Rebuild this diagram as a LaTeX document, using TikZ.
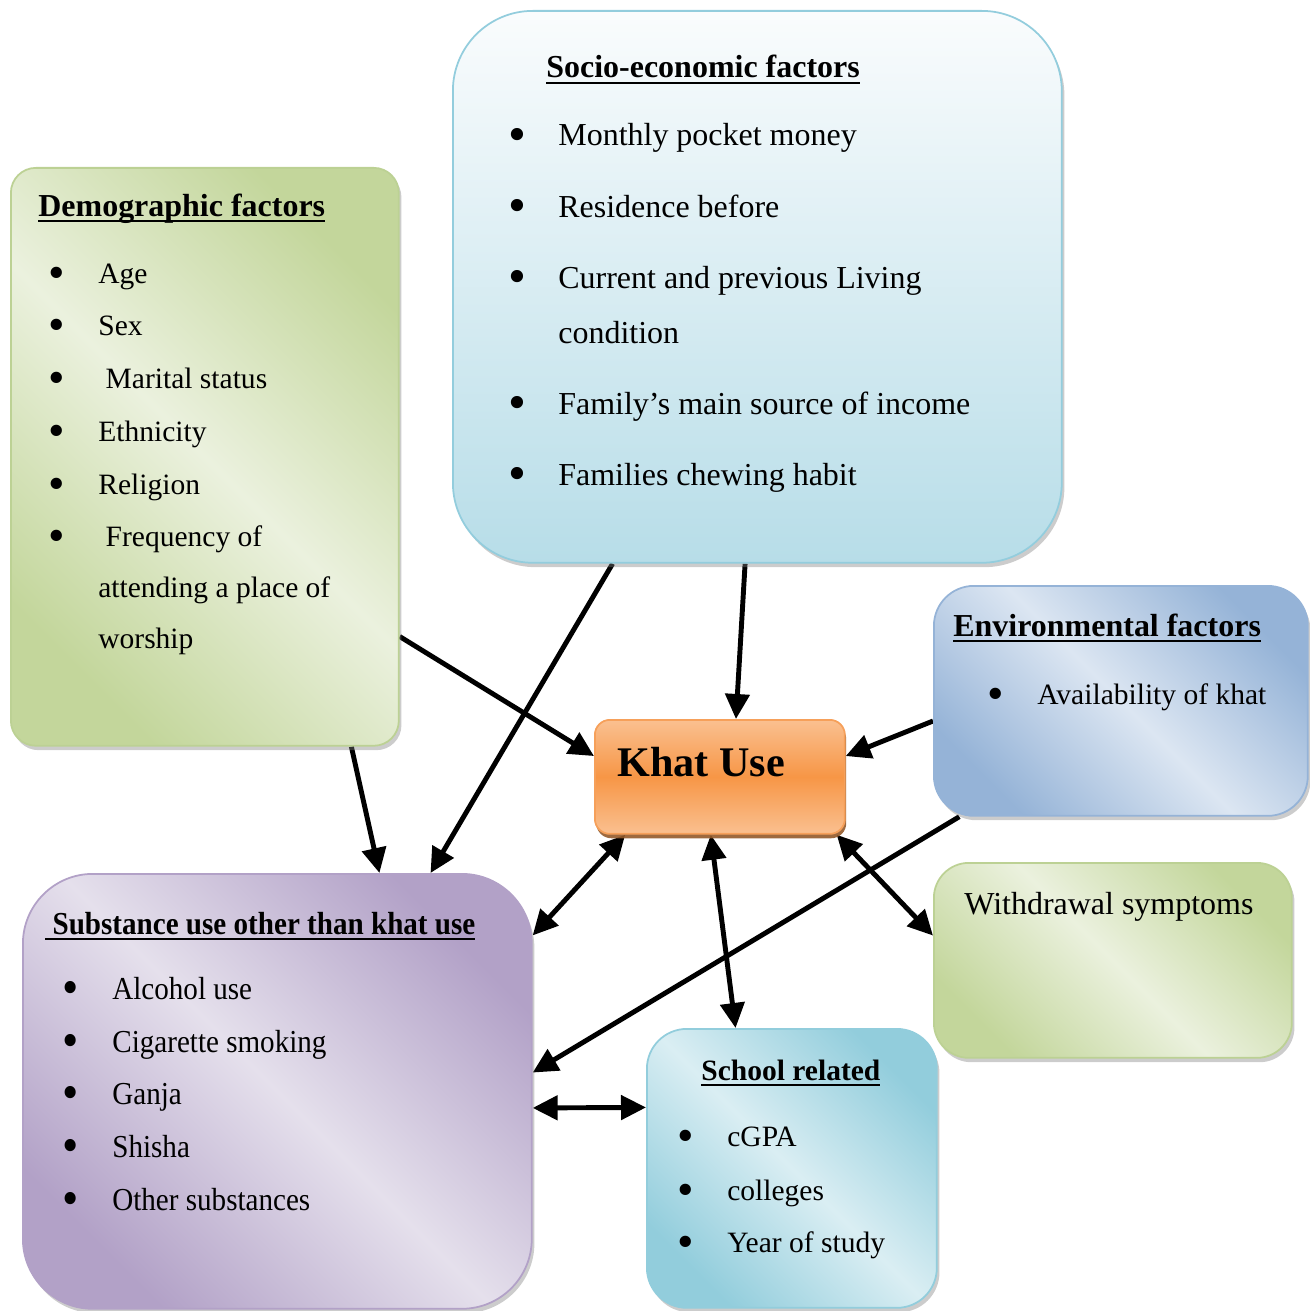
\documentclass[tikz,border=0pt]{standalone}
\usepackage{graphicx}
\usepackage{fontspec}
\setmainfont{Liberation Serif}
\newfontfamily\narrowfont[FakeStretch=0.91]{Liberation Serif}
\usetikzlibrary{arrows.meta,shadows,calc,backgrounds}

\definecolor{grdark}{HTML}{C3D69B}
\definecolor{grlight}{HTML}{EBF1DE}
\definecolor{grline}{HTML}{BCD194}
\definecolor{bltop}{HTML}{FAFCFD}
\definecolor{bldark}{HTML}{B7DDE8}
\definecolor{blline}{HTML}{93CDDD}
\definecolor{ordark}{HTML}{F79646}
\definecolor{orlight}{HTML}{FAC090}
\definecolor{orline}{HTML}{F6A05A}
\definecolor{endark}{HTML}{95B3D7}
\definecolor{enlight}{HTML}{DCE6F2}
\definecolor{pudark}{HTML}{B2A1C7}
\definecolor{pulight}{HTML}{E5E0EC}
\definecolor{scdark}{HTML}{92CDDC}
\definecolor{sclight}{HTML}{DAEEF3}

\newcommand{\bul}{\makebox[0.94cm][l]{\hspace{-1.5pt}\raisebox{-3.4pt}{\scalebox{1.6}{\textbullet}}}}
\newcommand{\uln}[1]{\setbox0\hbox{#1}\rlap{\rule[-3.4pt]{\wd0}{1.1pt}}\box0}

\tikzset{
  box/.style={anchor=north west, draw, line width=1pt},
  shadowed/.style={drop shadow={shadow xshift=1.5pt, shadow yshift=-2.5pt, opacity=0.4}},
  diag/.style 2 args={left color=#1, right color=#1, middle color=#2, shading angle=135},
  txt/.style={anchor=base west, inner sep=0pt},
  small/.style={txt, font=\fontsize{16.8}{20}\selectfont},
  ttl/.style={txt, font=\fontsize{18.2}{22}\selectfont\bfseries},
  conn/.style={line width=2.8pt, -{Triangle[length=0.5cm,width=0.48cm]}},
  both/.style={line width=2.8pt, {Triangle[length=0.5cm,width=0.48cm]}-{Triangle[length=0.5cm,width=0.48cm]}}
}

\begin{document}
\begin{tikzpicture}[x=0.02cm, y=-0.02cm, font=\fontsize{18.2}{22}\selectfont]
\useasboundingbox (0,0) rectangle (1309,1311);

\node[box, shadowed, rounded corners=0.5cm, draw=grline, diag={grdark}{grlight},
  minimum width=7.76cm, minimum height=11.56cm] (demo) at (10,167) {};
\node[box, shadowed, rounded corners=1.6cm, draw=blline, top color=bltop, bottom color=bldark,
  minimum width=12.18cm, minimum height=11.04cm] (socio) at (452,10) {};
\node[box, rounded corners=0.3cm, draw=orline, top color=orlight, bottom color=orlight, middle color=ordark,
  drop shadow={shadow xshift=0.8pt, shadow yshift=-2.5pt, fill=ordark!60!black, opacity=0.9},
  minimum width=5cm, minimum height=2.28cm] (khat) at (594,719) {};
\node[box, shadowed, rounded corners=0.8cm, draw=endark, diag={endark}{enlight},
  minimum width=7.48cm, minimum height=4.6cm] (env) at (933,585) {};
\node[box, shadowed, rounded corners=0.7cm, draw=grline, diag={grdark}{grlight},
  minimum width=7.16cm, minimum height=3.9cm] (wd) at (933,862) {};
\node[box, shadowed, rounded corners=1.4cm, draw=pudark, diag={pudark}{pulight},
  minimum width=10.18cm, minimum height=8.7cm] (subst) at (22,873) {};
\node[box, shadowed, rounded corners=0.8cm, draw=scdark, diag={scdark}{sclight},
  minimum width=5.8cm, minimum height=5.58cm] (school) at (646,1028) {};

\node[ttl] (demot) at (38,216) {\uln{Demographic factors}};
\node[small] (d1) at (51,283) {\bul Age};
\node[small] (d2) at (51,335) {\bul Sex};
\node[small] (d3) at (51,388) {\bul\ Marital status};
\node[small] (d4) at (51,441) {\bul Ethnicity};
\node[small] (d5) at (51,494) {\bul Religion};
\node[small] (d6) at (51,546) {\bul\ Frequency of};
\node[small] (d7) at (98,597) {attending a place of};
\node[small] (d8) at (98,648) {worship};

\node[ttl] (sociot) at (546,78) {\uln{Socio-economic factors}};
\node[txt] (s1) at (511,146) {\bul Monthly pocket money};
\node[txt] (s2) at (511,217) {\bul Residence before};
\node[txt] (s3) at (511,288) {\bul Current and previous Living};
\node[txt] (s4) at (558,343) {condition};
\node[txt] (s5) at (511,414) {\bul Family’s main source of income};
\node[txt] (s6) at (511,485) {\bul Families chewing habit};

\node[txt, font=\fontsize{24}{28}\selectfont\bfseries] (khatt) at (617,776) {Khat Use};

\node[ttl] (envt) at (953,636) {\uln{Environmental factors}};
\node[small] (e1) at (990,704) {\bul Availability of khat};

\node[txt] (wdt) at (964,914) {Withdrawal symptoms};

\node[ttl, font=\fontsize{18.2}{22}\selectfont\narrowfont\bfseries] (substt) at (45,934) {\uln{\ Substance use other than khat use}};
\node[txt, font=\fontsize{18.2}{22}\selectfont\narrowfont] (u1) at (65,999) {\bul Alcohol use};
\node[txt, font=\fontsize{18.2}{22}\selectfont\narrowfont] (u2) at (65,1052) {\bul Cigarette smoking};
\node[txt, font=\fontsize{18.2}{22}\selectfont\narrowfont] (u3) at (65,1104) {\bul Ganja};
\node[txt, font=\fontsize{18.2}{22}\selectfont\narrowfont] (u4) at (65,1157) {\bul Shisha};
\node[txt, font=\fontsize{18.2}{22}\selectfont\narrowfont] (u5) at (65,1210) {\bul Other substances};

\node[ttl, font=\fontsize{16.8}{20}\selectfont\bfseries] (schoolt) at (701,1080) {\uln{School related}};
\node[small] (c1) at (680,1146) {\bul cGPA};
\node[small] (c2) at (680,1200) {\bul colleges};
\node[small] (c3) at (680,1252) {\bul Year of study};

\begin{pgfonlayer}{background}
\draw[conn] ($(demo.north east)!0.81!(demo.south east)$) -- ($(khat.north west)!0.32!(khat.south west)$);
\draw[conn] ($(demo.south west)!0.876!(demo.south east)$) -- ($(subst.north west)!0.70!(subst.north east)$);
\draw[conn] ($(socio.south west)!0.263!(socio.south east)$) -- ($(subst.north west)!0.80!(subst.north east)$);
\draw[conn] ($(socio.south west)!0.48!(socio.south east)$) -- ($(khat.north west)!0.564!(khat.north east)$);
\draw[conn] ($(env.north west)!0.587!(env.south west)$) -- ($(khat.north east)!0.32!(khat.south east)$);
\draw[conn] ($(env.south west)!0.07!(env.south east)$) -- ($(subst.north east)!0.457!(subst.south east)$);
\draw[both] ($(khat.south west)!0.124!(khat.south east)$) -- ($(subst.north east)!0.143!(subst.south east)$);
\draw[both] ($(khat.south west)!0.464!(khat.south east)$) -- ($(school.north west)!0.307!(school.north east)$);
\draw[both] ($(khat.south west)!0.964!(khat.south east)$) -- ($(wd.north west)!0.374!(wd.south west)$);
\draw[both] ($(subst.north east)!0.538!(subst.south east)$) -- ($(school.north west)!0.283!(school.south west)$);
\end{pgfonlayer}
\end{tikzpicture}
\end{document}
